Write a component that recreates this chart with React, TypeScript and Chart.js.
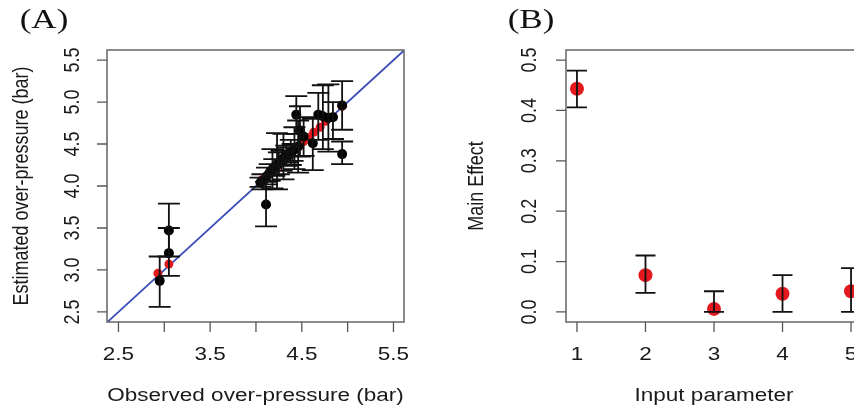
import React, { useEffect, useRef } from "react";
import { Chart, registerables } from "chart.js";

Chart.register(...registerables);

// ---------- Panel A data ----------
const obsA = [2.95, 3.05, 3.05, 4.05, 4.07, 4.11, 4.12, 4.15, 4.18, 4.2, 4.23, 4.25, 4.28, 4.3, 4.33, 4.35, 4.38, 4.4, 4.42, 4.44, 4.46, 4.48, 4.52, 4.62, 4.68, 4.73, 4.79, 4.84, 4.94, 4.94];
const estA = [2.87, 3.47, 3.2, 4.04, 4.06, 3.78, 4.12, 4.16, 4.2, 4.22, 4.25, 4.27, 4.3, 4.33, 4.36, 4.37, 4.4, 4.42, 4.44, 4.85, 4.47, 4.66, 4.59, 4.51, 4.85, 4.83, 4.81, 4.82, 4.96, 4.38];
const loA = [2.56, 3.16, 2.93, 3.99, 3.96, 3.52, 4.02, 4.06, 3.97, 4.12, 3.96, 4.14, 4.18, 4.08, 4.24, 4.28, 4.25, 4.3, 4.2, 4.62, 4.16, 4.35, 4.36, 4.19, 4.55, 4.44, 4.41, 4.56, 4.67, 4.26];
const hiA = [3.16, 3.79, 3.5, 4.1, 4.14, 4.05, 4.22, 4.26, 4.44, 4.32, 4.63, 4.4, 4.42, 4.62, 4.48, 4.46, 4.55, 4.5, 4.7, 5.07, 4.78, 4.95, 4.82, 4.8, 5.11, 5.2, 5.21, 5.0, 5.25, 4.53];
const redObsA = [2.93, 3.05, 4.06, 4.1, 4.14, 4.17, 4.2, 4.24, 4.27, 4.31, 4.34, 4.38, 4.42, 4.47, 4.52, 4.58, 4.63, 4.7, 4.76, 4.82, 4.94];
const redEstA = [2.96, 3.07, 4.07, 4.1, 4.15, 4.17, 4.21, 4.24, 4.28, 4.31, 4.35, 4.38, 4.43, 4.47, 4.53, 4.58, 4.64, 4.7, 4.77, 4.82, 4.95];
const xTicksA = [2.5, 3, 3.5, 4, 4.5, 5, 5.5];
const xLabelsA = ["2.5", "", "3.5", "", "4.5", "", "5.5"];
const yTicksA = [2.5, 3, 3.5, 4, 4.5, 5, 5.5];
const yLabelsA = ["2.5", "3.0", "3.5", "4.0", "4.5", "5.0", "5.5"];
const refLineA = [2.3, 5.7];

// ---------- Panel B data ----------
const paramB = [1, 2, 3, 4, 5];
const effectB = [0.443, 0.073, 0.006, 0.036, 0.041];
const loB = [0.406, 0.038, 0.0, 0.0, 0.0];
const hiB = [0.479, 0.112, 0.041, 0.073, 0.087];
const xTicksB = [1, 2, 3, 4, 5];
const xLabelsB = ["1", "2", "3", "4", "5"];
const yTicksB = [0, 0.1, 0.2, 0.3, 0.4, 0.5];
const yLabelsB = ["0.0", "0.1", "0.2", "0.3", "0.4", "0.5"];

const STRETCH = 1.25;
const TICK_FONT = "18px 'Liberation Sans', Arial, sans-serif";
const TITLE_FONT = "18px 'Liberation Sans', Arial, sans-serif";
const PANEL_FONT = "28px 'Liberation Serif', 'Times New Roman', serif";

function drawText(ctx: CanvasRenderingContext2D, text: string, x: number, y: number, font: string, rotate: boolean, color: string) {
  ctx.save();
  ctx.translate(x, y);
  if (rotate) {
    ctx.rotate(-Math.PI / 2);
    ctx.scale(1, STRETCH);
  } else {
    ctx.scale(STRETCH, 1);
  }
  ctx.font = font;
  ctx.fillStyle = color;
  ctx.textAlign = "center";
  ctx.textBaseline = "middle";
  ctx.fillText(text, 0, 0);
  ctx.restore();
}

type PanelCfg = {
  lo: number[];
  hi: number[];
  xs: number[];
  capHalf: number;
  xTicks: number[];
  xLabels: string[];
  yTicks: number[];
  yLabels: string[];
  xTitle: string;
  yTitle: string;
  yTitleX: number;
  yLabelOffset: number;
  panel: string;
  panelX: number;
};

function makePlugin(cfg: PanelCfg) {
  return {
    id: "rstyle",
    afterDatasetsDraw(chart: any) {
      const ctx: CanvasRenderingContext2D = chart.ctx;
      const xs = chart.scales.x;
      const ys = chart.scales.y;
      const area = chart.chartArea;
      // error bars
      ctx.save();
      ctx.strokeStyle = "#111";
      ctx.lineWidth = 1.8;
      for (let i = 0; i < cfg.xs.length; i++) {
        const px = xs.getPixelForValue(cfg.xs[i]);
        const pl = ys.getPixelForValue(cfg.lo[i]);
        const ph = ys.getPixelForValue(cfg.hi[i]);
        ctx.beginPath();
        ctx.moveTo(px, pl);
        ctx.lineTo(px, ph);
        ctx.moveTo(px - cfg.capHalf, pl);
        ctx.lineTo(px + cfg.capHalf, pl);
        ctx.moveTo(px - cfg.capHalf, ph);
        ctx.lineTo(px + cfg.capHalf, ph);
        ctx.stroke();
      }
      ctx.restore();
      // box
      ctx.save();
      ctx.strokeStyle = "#666";
      ctx.lineWidth = 1.5;
      ctx.strokeRect(area.left, area.top, area.right - area.left, area.bottom - area.top);
      // ticks
      ctx.strokeStyle = "#555";
      ctx.lineWidth = 1.3;
      ctx.beginPath();
      cfg.xTicks.forEach((v) => {
        const px = xs.getPixelForValue(v);
        ctx.moveTo(px, area.bottom);
        ctx.lineTo(px, area.bottom + 10);
      });
      cfg.yTicks.forEach((v) => {
        const py = ys.getPixelForValue(v);
        ctx.moveTo(area.left, py);
        ctx.lineTo(area.left - 10, py);
      });
      ctx.stroke();
      ctx.restore();
      cfg.xTicks.forEach((v, i) => {
        if (cfg.xLabels[i]) drawText(ctx, cfg.xLabels[i], xs.getPixelForValue(v), area.bottom + 33, TICK_FONT, false, "#1a1a1a");
      });
      cfg.yTicks.forEach((v, i) => {
        drawText(ctx, cfg.yLabels[i], area.left - cfg.yLabelOffset, ys.getPixelForValue(v), TICK_FONT, true, "#1a1a1a");
      });
      drawText(ctx, cfg.xTitle, (area.left + area.right) / 2, area.bottom + 74, TITLE_FONT, false, "#1a1a1a");
      drawText(ctx, cfg.yTitle, cfg.yTitleX, (area.top + area.bottom) / 2, TITLE_FONT, true, "#1a1a1a");
      drawText(ctx, cfg.panel, cfg.panelX, 21, PANEL_FONT, false, "#111");
    },
  };
}

function PanelA() {
  const ref = useRef<HTMLCanvasElement>(null);
  useEffect(() => {
    if (!ref.current) return;
    const chart = new Chart(ref.current, {
      type: "scatter",
      data: {
        datasets: [
          {
            data: obsA.map((x, i) => ({ x, y: estA[i] })),
            backgroundColor: "#000",
            borderColor: "#000",
            pointRadius: 5,
            borderWidth: 0,
          },
          {
            data: redObsA.map((x, i) => ({ x, y: redEstA[i] })),
            backgroundColor: "#e3191e",
            borderColor: "#e3191e",
            pointRadius: 4.5,
            borderWidth: 0,
          },
          {
            type: "line",
            data: refLineA.map((v) => ({ x: v, y: v })),
            borderColor: "#3b4db8",
            borderWidth: 1.8,
            pointRadius: 0,
            showLine: true,
            fill: false,
          } as any,
        ],
      },
      options: {
        animation: false,
        responsive: false,
        events: [],
        layout: { padding: { left: 107, right: 23, top: 50, bottom: 85 } },
        plugins: { legend: { display: false }, tooltip: { enabled: false } },
        scales: {
          x: { type: "linear", min: 2.375, max: 5.615, display: false },
          y: { type: "linear", min: 2.38, max: 5.62, display: false },
        },
      },
      plugins: [
        makePlugin({
          lo: loA,
          hi: hiA,
          xs: obsA,
          capHalf: 11,
          xTicks: xTicksA,
          xLabels: xLabelsA,
          yTicks: yTicksA,
          yLabels: yLabelsA,
          xTitle: "Observed over-pressure (bar)",
          yTitle: "Estimated over-pressure (bar)",
          yTitleX: 22,
          yLabelOffset: 34,
          panel: "(A)",
          panelX: 44,
        }),
      ],
    } as any);
    return () => chart.destroy();
  }, []);
  return <canvas ref={ref} width={427} height={407} style={{ position: "absolute", left: 0, top: 0 }} />;
}

function PanelB() {
  const ref = useRef<HTMLCanvasElement>(null);
  useEffect(() => {
    if (!ref.current) return;
    const chart = new Chart(ref.current, {
      type: "scatter",
      data: {
        datasets: [
          {
            data: paramB.map((x, i) => ({ x, y: effectB[i] })),
            backgroundColor: "#e3191e",
            borderColor: "#e3191e",
            pointRadius: 7,
            borderWidth: 0,
          },
        ],
      },
      options: {
        animation: false,
        responsive: false,
        events: [],
        layout: { padding: { left: 136, right: 8, top: 50, bottom: 85 } },
        plugins: { legend: { display: false }, tooltip: { enabled: false } },
        scales: {
          x: { type: "linear", min: 0.84, max: 5.16, display: false },
          y: { type: "linear", min: -0.02, max: 0.52, display: false },
        },
      },
      plugins: [
        makePlugin({
          lo: loB,
          hi: hiB,
          xs: paramB,
          capHalf: 10,
          xTicks: xTicksB,
          xLabels: xLabelsB,
          yTicks: yTicksB,
          yLabels: yLabelsB,
          xTitle: "Input parameter",
          yTitle: "Main Effect",
          yTitleX: 47,
          yLabelOffset: 36,
          panel: "(B)",
          panelX: 101,
        }),
      ],
    } as any);
    return () => chart.destroy();
  }, []);
  return <canvas ref={ref} width={440} height={407} style={{ position: "absolute", left: 430, top: 0 }} />;
}

export default function App() {
  return (
    <div
      style={{
        position: "fixed",
        left: 0,
        top: 0,
        width: 854,
        height: 407,
        overflow: "hidden",
        background: "#fff",
      }}
    >
      <PanelA />
      <PanelB />
    </div>
  );
}
